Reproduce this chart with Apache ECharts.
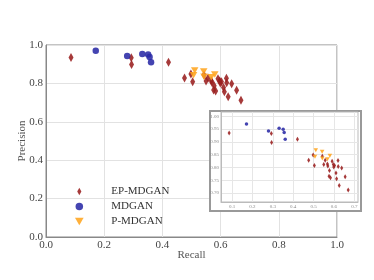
<!DOCTYPE html>
<html>
<head>
<meta charset="utf-8">
<script src="https://cdn.jsdelivr.net/npm/echarts@6/dist/echarts.min.js"></script>
<style>html,body{margin:0;padding:0;background:#fff;}#c{width:374px;height:280px;}</style>
</head>
<body>
<div id="c"></div>
<script>
var seriesNames = ['EP-MDGAN', 'MDGAN', 'P-MDGAN'];
var epMdgan = [
  [0.086,0.935],[0.293,0.933],[0.294,0.898],[0.421,0.910],
  [0.476,0.828],[0.498,0.849],[0.504,0.808],[0.543,0.844],[0.550,0.812],
  [0.557,0.828],[0.568,0.814],[0.570,0.806],[0.578,0.788],[0.576,0.766],
  [0.583,0.760],[0.591,0.824],[0.597,0.812],[0.599,0.802],[0.603,0.808],
  [0.610,0.778],[0.613,0.756],[0.620,0.827],[0.621,0.804],[0.626,0.730],
  [0.638,0.798],[0.655,0.764],[0.670,0.712]
];
var mdgan = [
  [0.171,0.970],[0.279,0.943],[0.331,0.953],[0.351,0.950],[0.356,0.937],[0.361,0.910]
];
var pMdgan = [
  [0.511,0.867],[0.507,0.842],[0.542,0.862],[0.543,0.835],[0.568,0.832],[0.580,0.846]
];
var mainTicks = [0.0, 0.2, 0.4, 0.6, 0.8, 1.0];
var insetXTicks = [0.1, 0.2, 0.3, 0.4, 0.5, 0.6, 0.7];
var insetYTicks = [0.70, 0.75, 0.80, 0.85, 0.90, 0.95, 1.00];

var RED = '#9a1f1f', BLUE = '#2a2aa6', ORANGE = '#ffa51f';
var DIAMOND = 'path://M0,-1 L0.55,0 L0,1 L-0.55,0 Z';
var TRI_DOWN = 'path://M-1,-0.87 L1,-0.87 L0,0.87 Z';
var FONT = 'Liberation Serif';

var chart = echarts.init(document.getElementById('c'), null, {renderer: 'canvas'});

function mkSeries(name, data, sym, size, color, axisIdx) {
  return {
    name: name, type: 'scatter', data: data,
    xAxisIndex: axisIdx, yAxisIndex: axisIdx,
    symbol: sym, symbolSize: size,
    itemStyle: {color: color, opacity: 0.88},
    z: axisIdx === 1 ? 6 : 2,
    silent: true, animation: false
  };
}

var option = {
  animation: false,
  backgroundColor: '#fff',
  grid: [
    {left: 46, right: 37, top: 45, bottom: 43, show: true, borderColor: '#888', borderWidth: 1},
    {left: 221, top: 112, width: 137, height: 90, show: true, borderColor: '#bbb', borderWidth: 1, z: 4}
  ],
  legend: {
    orient: 'vertical', left: 70, top: 181,
    data: seriesNames,
    itemWidth: 54, itemHeight: 7.5, itemGap: 4,
    textStyle: {fontFamily: FONT, fontSize: 11, color: '#333', lineHeight: 11},
    selectedMode: false
  },
  xAxis: [
    {type: 'value', gridIndex: 0, min: 0, max: 1, interval: 0.2,
     name: 'Recall', nameLocation: 'middle', nameGap: 13, nameMoveOverlap: false,
     nameTextStyle: {fontFamily: FONT, fontSize: 11, color: '#555'},
     axisLine: {show: true, lineStyle: {color: '#888'}},
     axisTick: {show: false},
     axisLabel: {fontFamily: FONT, fontSize: 11, color: '#444', margin: 3,
       formatter: function (v) { return v.toFixed(1); }},
     splitLine: {show: true, lineStyle: {color: '#e2e2e2'}}},
    {type: 'value', gridIndex: 1, min: 0.046, max: 0.718, z: 5,
     axisLine: {show: true, lineStyle: {color: '#bbb'}},
     axisTick: {show: false, customValues: insetXTicks},
     axisLabel: {fontFamily: FONT, fontSize: 5, color: '#888', margin: 2,
       customValues: insetXTicks,
       formatter: function (v) { return v.toFixed(1); }},
     splitLine: {show: true, lineStyle: {color: '#e6e6e6'}}}
  ],
  yAxis: [
    {type: 'value', gridIndex: 0, min: 0, max: 1, interval: 0.2,
     name: 'Precision', nameLocation: 'middle', nameGap: 18, nameMoveOverlap: false,
     nameTextStyle: {fontFamily: FONT, fontSize: 11, color: '#555'},
     axisLine: {show: true, lineStyle: {color: '#888'}},
     axisTick: {show: false},
     axisLabel: {fontFamily: FONT, fontSize: 11, color: '#444', margin: 3,
       formatter: function (v) { return v.toFixed(1); }},
     splitLine: {show: true, lineStyle: {color: '#e2e2e2'}}},
    {type: 'value', gridIndex: 1, min: 0.665, max: 1.017, z: 5,
     axisLine: {show: true, lineStyle: {color: '#bbb'}},
     axisTick: {show: false, customValues: insetYTicks},
     axisLabel: {fontFamily: FONT, fontSize: 5, color: '#888', margin: 2,
       customValues: insetYTicks,
       formatter: function (v) { return v.toFixed(2); }},
     splitLine: {show: true, lineStyle: {color: '#e6e6e6'}}}
  ],
  graphic: [
    {type: 'rect', z: 3, silent: true,
     shape: {x: 210, y: 111, width: 151, height: 100},
     style: {fill: '#fff', stroke: '#999', lineWidth: 2}}
  ],
  series: [
    mkSeries('EP-MDGAN', epMdgan, DIAMOND, [5, 9], RED, 0),
    mkSeries('MDGAN', mdgan, 'circle', 6.5, BLUE, 0),
    mkSeries('P-MDGAN', pMdgan, TRI_DOWN, [7.5, 6.5], ORANGE, 0),
    mkSeries('EP-MDGAN', epMdgan, DIAMOND, [3, 5], RED, 1),
    mkSeries('MDGAN', mdgan, 'circle', 3.5, BLUE, 1),
    mkSeries('P-MDGAN', pMdgan, TRI_DOWN, [4.5, 4], ORANGE, 1)
  ]
};
chart.setOption(option);
</script>
</body>
</html>
